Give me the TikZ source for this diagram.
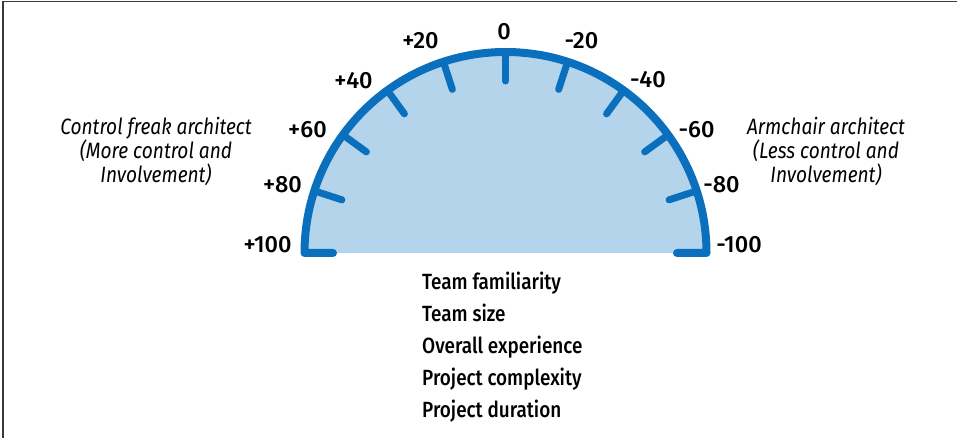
\documentclass[tikz,border=0pt]{standalone}
\usepackage{fontspec}
\setmainfont{Fira Sans}[FakeStretch=0.86]
\newfontfamily\medfont{Fira Sans Medium}
\newfontfamily\medcond{Fira Sans Medium}[FakeStretch=0.86]
\usetikzlibrary{calc}
\definecolor{gblue}{HTML}{0A6FBD}
\definecolor{glight}{HTML}{B3D4EA}
\definecolor{framec}{HTML}{3A3A3A}
\begin{document}
\begin{tikzpicture}[x=1pt,y=1pt,
  gaugeline/.style={draw=gblue,line width=8pt,line cap=round,line join=round},
  tickline/.style={draw=gblue,line width=7pt,line cap=round},
  numlabel/.style={inner sep=0pt,anchor=center,font=\medfont\fontsize{23.5}{28}\selectfont},
  rolelabel/.style={inner sep=0pt,anchor=base,font=\fontsize{22.2}{26}\selectfont\itshape},
  factor/.style={inner sep=0pt,anchor=base west,font=\medcond\fontsize{22}{26}\selectfont}]
\useasboundingbox (0,0) rectangle (957,438);
\draw[framec,line width=1.4pt] (3,0) -- (3,436.5) -- (957,436.5);
\coordinate (C) at (505.5,185);
\fill[glight] ($(C)+(-201,0)$) arc[start angle=180,end angle=0,radius=201] -- cycle;
\foreach \v in {-80,-60,...,80}
  \draw[tickline] ($(C)+({90+0.9*\v}:201)$) -- ($(C)+({90+0.9*\v}:172)$);
\draw[gaugeline] (333,185) -- ($(C)+(-201,0)$) arc[start angle=180,end angle=0,radius=201] -- (677,185);
\foreach \t/\n/\x/\y in {+100/p100/267.5/193, +80/p80/282.5/253, +60/p60/307.5/308.5,
    +40/p40/353.5/357, +20/p20/420.5/397, 0/z0/504/406.5, -20/m20/581.5/397,
    -40/m40/648/358, -60/m60/696.5/308.5, -80/m80/721.5/253, -100/m100/739/193}
  \node[numlabel] (\n) at (\x,\y) {\t};
\node[rolelabel] (cf1) at (156,303) {Control freak architect};
\node[rolelabel] (cf2) at (156,279) {(More control and};
\node[rolelabel] (cf3) at (156,255) {Involvement)};
\node[rolelabel] (ac1) at (826,303) {Armchair architect};
\node[rolelabel] (ac2) at (826,279) {(Less control and};
\node[rolelabel] (ac3) at (826,255) {Involvement)};
\node[factor] (f1) at (422,148) {Team familiarity};
\node[factor] (f2) at (422,116) {Team size};
\node[factor] (f3) at (422,84) {Overall experience};
\node[factor] (f4) at (422,52) {Project complexity};
\node[factor] (f5) at (422,20) {Project duration};
\end{tikzpicture}
\end{document}
